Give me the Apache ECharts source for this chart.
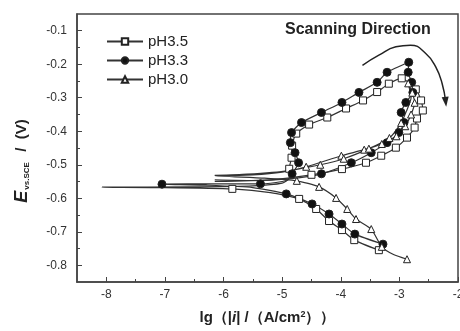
<!DOCTYPE html>
<html>
<head>
<meta charset="utf-8">
<script src="https://cdn.jsdelivr.net/npm/echarts@6/dist/echarts.min.js"></script>
<style>
  html, body { margin: 0; padding: 0; background: #fff; }
  #chart { width: 460px; height: 331px; }
</style>
</head>
<body>
<div id="chart"></div>
<script>
// 刻度
const X_TICKS = [-8, -7, -6, -5, -4, -3, -2];
const X_MINOR = [-7.5, -6.5, -5.5, -4.5, -3.5, -2.5];
const Y_TICKS = [-0.8, -0.7, -0.6, -0.5, -0.4, -0.3, -0.2, -0.1];
const Y_MINOR = [-0.75, -0.65, -0.55, -0.45, -0.35, -0.25, -0.15];

// 循环极化曲线：[lg|i|, E(V), 是否画标记]，从阴极端开始按扫描顺序
const PH35 = [
  [-3.35, -0.755, 1], [-3.77, -0.725, 1], [-3.98, -0.695, 1], [-4.20, -0.668, 1],
  [-4.42, -0.632, 1], [-4.71, -0.602, 1], [-5.20, -0.583, 0], [-5.85, -0.572, 1],
  [-7.00, -0.568, 0], [-8.07, -0.567, 0], [-6.60, -0.566, 0], [-5.50, -0.563, 0],
  [-5.00, -0.555, 0], [-4.88, -0.540, 0], [-4.88, -0.512, 1], [-4.84, -0.479, 1],
  [-4.83, -0.443, 1], [-4.76, -0.407, 1], [-4.54, -0.380, 1], [-4.23, -0.359, 1],
  [-3.91, -0.332, 1], [-3.62, -0.308, 1], [-3.38, -0.283, 1], [-3.18, -0.258, 1],
  [-2.96, -0.242, 1], [-2.72, -0.275, 1], [-2.63, -0.308, 1], [-2.60, -0.338, 1],
  [-2.70, -0.362, 1], [-2.74, -0.389, 1], [-2.87, -0.419, 1], [-3.06, -0.449, 1],
  [-3.31, -0.473, 1], [-3.57, -0.494, 1], [-3.98, -0.513, 1], [-4.50, -0.530, 1],
  [-5.20, -0.545, 0], [-6.15, -0.550, 0],
];
const PH33 = [
  [-3.28, -0.737, 1], [-3.76, -0.707, 1], [-3.98, -0.677, 1], [-4.20, -0.647, 1],
  [-4.49, -0.617, 1], [-4.93, -0.587, 1], [-5.50, -0.568, 0], [-6.30, -0.561, 0],
  [-7.05, -0.558, 1], [-6.20, -0.557, 0], [-5.37, -0.557, 1], [-5.00, -0.550, 0],
  [-4.85, -0.540, 0], [-4.83, -0.527, 1], [-4.72, -0.494, 1], [-4.78, -0.464, 1],
  [-4.86, -0.434, 1], [-4.84, -0.404, 1], [-4.67, -0.374, 1], [-4.33, -0.344, 1],
  [-3.98, -0.314, 1], [-3.69, -0.284, 1], [-3.38, -0.254, 1], [-3.21, -0.224, 1],
  [-2.84, -0.194, 1], [-2.85, -0.224, 1], [-2.79, -0.254, 1], [-2.77, -0.284, 1],
  [-2.89, -0.314, 1], [-2.97, -0.344, 1], [-2.92, -0.374, 1], [-3.01, -0.404, 1],
  [-3.21, -0.434, 1], [-3.48, -0.464, 1], [-3.82, -0.494, 1], [-4.33, -0.527, 1],
  [-4.90, -0.542, 0], [-5.50, -0.547, 0], [-6.15, -0.545, 0],
];
const PH30 = [
  [-2.87, -0.782, 1], [-3.10, -0.768, 0], [-3.30, -0.745, 1], [-3.48, -0.692, 1],
  [-3.74, -0.662, 1], [-3.89, -0.632, 1], [-4.08, -0.599, 1], [-4.37, -0.566, 1],
  [-4.75, -0.548, 1], [-5.30, -0.540, 0], [-6.15, -0.533, 0], [-5.50, -0.530, 0],
  [-5.00, -0.522, 0], [-4.59, -0.506, 1], [-3.99, -0.473, 1], [-3.60, -0.455, 1],
  [-3.30, -0.438, 1], [-3.05, -0.415, 1], [-2.90, -0.385, 1], [-2.80, -0.350, 1],
  [-2.74, -0.315, 1], [-2.78, -0.285, 1], [-2.85, -0.257, 1], [-2.80, -0.300, 0],
  [-2.88, -0.340, 0], [-2.97, -0.375, 1], [-3.17, -0.420, 1], [-3.52, -0.452, 1],
  [-3.95, -0.482, 1], [-4.35, -0.500, 1], [-4.90, -0.518, 0], [-5.60, -0.528, 0],
  [-6.15, -0.532, 0],
];
// 扫描方向箭头
const ARROW = [
  [-3.63, -0.203], [-3.35, -0.173], [-3.06, -0.148], [-2.81, -0.143],
  [-2.55, -0.168], [-2.38, -0.208], [-2.27, -0.258], [-2.21, -0.312],
];

const FONT = '"Liberation Sans", Arial, sans-serif';
const INK = '#333';

const toData = pts => pts.map(([x, y, m]) => m ? [x, y] : { value: [x, y], symbol: 'none' });

function curve(name, pts, symbol, size, fill) {
  return {
    name, type: 'line', data: toData(pts),
    xAxisIndex: 0, yAxisIndex: 0,
    smooth: 0.2, showAllSymbol: true,
    symbol, symbolSize: size,
    lineStyle: { color: INK, width: 1.2 },
    itemStyle: { color: fill, borderColor: '#222', borderWidth: 1 },
    emphasis: { disabled: true },
    z: 3,
  };
}

const chart = echarts.init(document.getElementById('chart'));
const axisBase = {
  type: 'value',
  axisLine: { show: true, lineStyle: { color: '#444', width: 1.5 } },
  splitLine: { show: false },
};

chart.setOption({
  animation: false,
  backgroundColor: '#fff',
  textStyle: { fontFamily: FONT },
  grid: {
    left: 77, right: 2, top: 14, bottom: 49,
    show: true, borderColor: '#444', borderWidth: 1.5,
    outerBoundsMode: 'none',
  },
  legend: {
    data: ['pH3.5', 'pH3.3', 'pH3.0'],
    orient: 'vertical', left: 106, top: 34, padding: 0,
    itemWidth: 36, itemHeight: 8, itemGap: 4,
    textStyle: { fontFamily: FONT, fontSize: 15, color: '#222' },
  },
  xAxis: [{
    ...axisBase, min: -8.5, max: -2,
    axisTick: { inside: true, length: 5, customValues: X_TICKS, lineStyle: { color: '#444' } },
    axisLabel: { customValues: X_TICKS, margin: 7, color: INK, fontSize: 12, fontFamily: FONT },
    name: '{b|lg（|}{i|i}{b|| /（A/cm}{s|2}{b|））}',
    nameLocation: 'middle', nameGap: 28,
    nameTextStyle: {
      rich: {
        b: { fontSize: 15, fontWeight: 'bold', color: '#222', fontFamily: FONT },
        i: { fontSize: 15, fontWeight: 'bold', fontStyle: 'italic', color: '#222', fontFamily: FONT },
        s: { fontSize: 9, fontWeight: 'bold', color: '#222', fontFamily: FONT, verticalAlign: 'top', padding: [0, 0, 7, 0] },
      },
    },
  }, {
    ...axisBase, min: -8.5, max: -2, position: 'bottom',
    axisLine: { show: false },
    axisTick: { inside: true, length: 3, customValues: X_MINOR, lineStyle: { color: '#444' } },
    axisLabel: { show: false },
  }],
  yAxis: [{
    ...axisBase, min: -0.85, max: -0.05,
    axisTick: { inside: true, length: 5, customValues: Y_TICKS, lineStyle: { color: '#444' } },
    axisLabel: { customValues: Y_TICKS, margin: 10, color: INK, fontSize: 12, fontFamily: FONT },
    name: '{e|E}{s|vs.SCE}{n|  /  (V)}',
    nameLocation: 'middle', nameRotate: 90, nameGap: 46,
    nameTextStyle: {
      rich: {
        e: { fontSize: 18, fontWeight: 'bold', fontStyle: 'italic', color: '#222', fontFamily: FONT },
        s: { fontSize: 8, fontWeight: 'bold', color: '#222', fontFamily: FONT, verticalAlign: 'bottom', padding: [6, 2, 0, 1] },
        n: { fontSize: 15, fontWeight: 'bold', color: '#222', fontFamily: FONT, padding: [0, 26, 0, 0] },
      },
    },
  }, {
    ...axisBase, min: -0.85, max: -0.05, position: 'left',
    axisLine: { show: false },
    axisTick: { inside: true, length: 3, customValues: Y_MINOR, lineStyle: { color: '#444' } },
    axisLabel: { show: false },
  }],
  graphic: [{
    type: 'text', left: 285, top: 22,
    style: { text: 'Scanning Direction', font: 'bold 16px ' + FONT, fill: '#222' },
  }],
  series: [
    curve('pH3.5', PH35, 'rect', 7, '#fff'),
    curve('pH3.3', PH33, 'circle', 8, '#111'),
    curve('pH3.0', PH30, 'triangle', 7, '#fff'),
    {
      type: 'line', data: ARROW.map((p, i) => i === ARROW.length - 1
        ? { value: p, symbol: 'triangle', symbolSize: [7, 10], symbolRotate: 186 }
        : { value: p, symbol: 'none' }),
      smooth: 0.5, lineStyle: { color: '#222', width: 1.5 },
      itemStyle: { color: '#222' }, emphasis: { disabled: true },
    },
  ],
});
</script>
</body>
</html>
